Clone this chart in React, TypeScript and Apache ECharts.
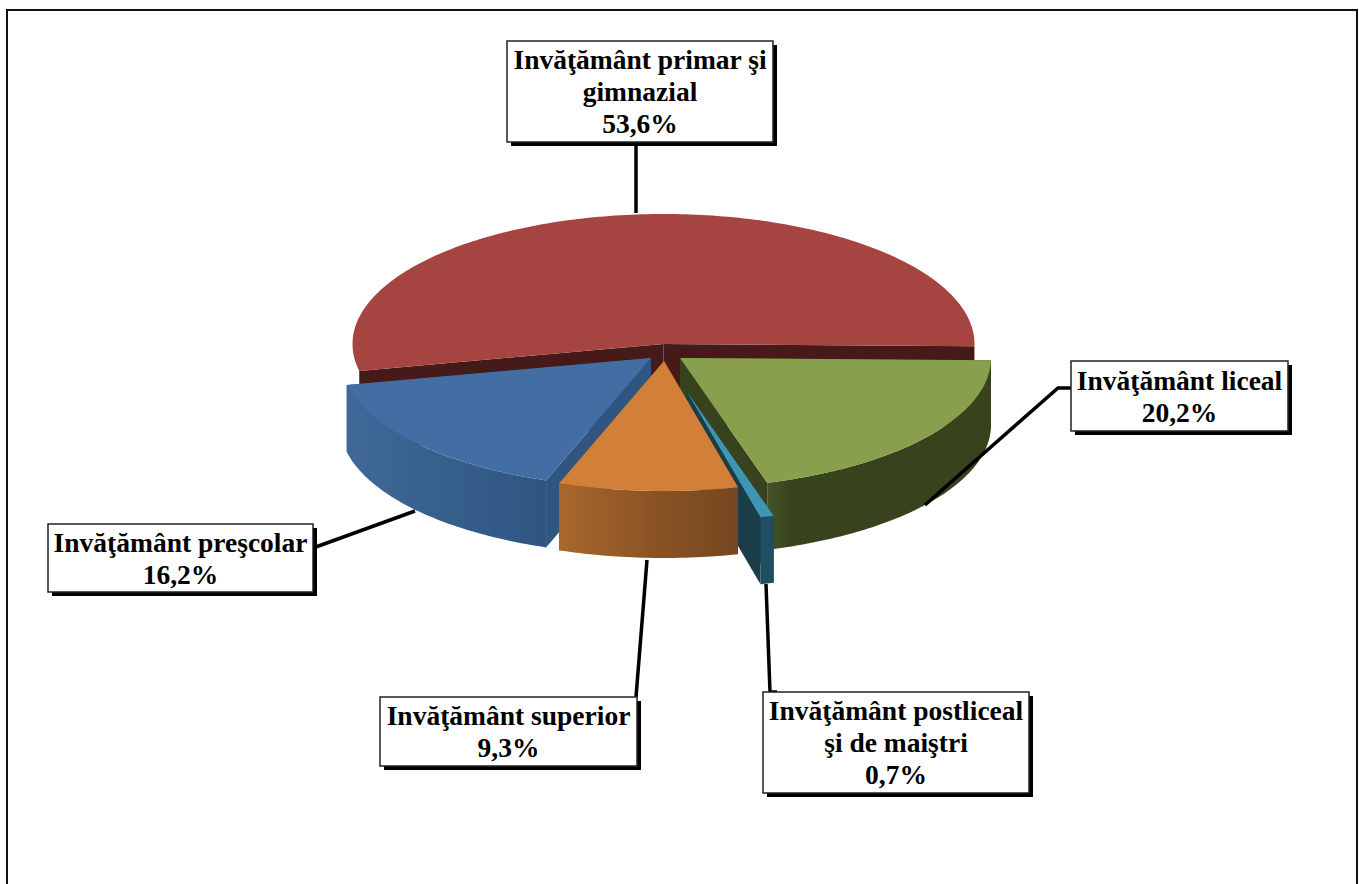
import React, { useEffect, useRef } from "react";
import * as echarts from "echarts";

// Data, clockwise from the right-hand side of the pie
const categories = [
  "Invăţământ liceal",
  "Invăţământ postliceal\nşi de maiştri",
  "Invăţământ superior",
  "Invăţământ preşcolar",
  "Invăţământ primar şi\ngimnazial",
];
const shares = [20.2, 0.7, 9.3, 16.2, 53.6];

// Painter's order (index into categories), back to front
const paintOrder = [4, 3, 0, 1, 2];

// Pie geometry
const START_DEG = 1;
const RX = 311;
const RY = 130;
const DEPTH = 67;
const centres = [
  [680, 358],
  [686.5, 391],
  [664, 361],
  [651, 358],
  [663.5, 344],
];
const hasOuterWall = [true, true, true, true, false];

const topColors = ["#88A04D", "#3E96B2", "#D27F39", "#426EA3", "#A64441"];
const faceColors = ["#38421C", "#1A3D48", "#7A4A20", "#2F5580", "#451A18"];
const wallStops = [
  ["#46542A", "#38421C", "#38421C"],
  ["#1F4F60", "#1F4F60", "#1F4F60"],
  ["#A9672D", "#8C5426", "#74471E"],
  ["#40699A", "#375F8C", "#2F5580"],
  ["#451A18", "#451A18", "#451A18"],
];
const wallMidStop = [0.12, 0.5, 0.5, 0.5, 0.5];

// Callout boxes
const boxes = [
  { x: 1071, y: 361, w: 217, h: 70, leader: [[1071, 388], [1058, 388], [925, 505]] },
  { x: 763, y: 692, w: 266, h: 101, leader: [[777, 692], [770, 692], [766, 584]] },
  { x: 380, y: 697, w: 257, h: 69, leader: [[636, 697], [647, 560]] },
  { x: 48, y: 524, w: 265, h: 68, leader: [[313, 548], [415, 511]] },
  { x: 507, y: 41, w: 266, h: 101, leader: [[636, 146], [636, 213]] },
];

const angles: number[][] = (() => {
  const total = shares.reduce((a, b) => a + b, 0);
  let a = START_DEG;
  return shares.map((s) => {
    const from = a;
    a += (s / total) * 360;
    return [from, a];
  });
})();

const rad = (d: number) => (d * Math.PI) / 180;
const rim = (c: number[], d: number, dy = 0) => [
  c[0] + RX * Math.cos(rad(d)),
  c[1] + RY * Math.sin(rad(d)) + dy,
];
const arc = (c: number[], a: number, b: number, dy = 0) => {
  const pts: number[][] = [];
  const n = Math.max(2, Math.ceil(Math.abs(b - a)));
  for (let i = 0; i <= n; i++) pts.push(rim(c, a + ((b - a) * i) / n, dy));
  return pts;
};

function renderSlice(_: any, api: any) {
  const i = api.value(0);
  const c = centres[i];
  const [a, b] = angles[i];
  const children: any[] = [];
  const face = (d: number) => {
    const p = rim(c, d);
    return {
      type: "polygon",
      shape: { points: [c, p, [p[0], p[1] + DEPTH], [c[0], c[1] + DEPTH]] },
      style: { fill: faceColors[i] },
    };
  };
  children.push(face(a), face(b));
  if (hasOuterWall[i]) {
    const from = Math.max(a, 0);
    const to = Math.min(b, 180);
    const top = arc(c, from, to);
    const bottom = arc(c, to, from, DEPTH);
    const xs = top.map((p) => p[0]);
    const x0 = Math.min(...xs);
    const x1 = Math.max(...xs);
    const [s0, s1, s2] = wallStops[i];
    // Colours run left to right across the wall on screen
    children.push({
      type: "polygon",
      shape: { points: top.concat(bottom) },
      style: {
        fill: new echarts.graphic.LinearGradient(
          x0, 0, x1, 0,
          [
            { offset: 0, color: s0 },
            { offset: wallMidStop[i], color: s1 },
            { offset: 1, color: s2 },
          ],
          true
        ),
      },
    });
  }
  children.push({
    type: "polygon",
    shape: { points: [c].concat(arc(c, a, b)) },
    style: { fill: topColors[i] },
  });
  return { type: "group", children };
}

const fmt = (v: number) => v.toFixed(1).replace(".", ",") + "%";

function calloutElements() {
  const out: any[] = [];
  boxes.forEach((b) => {
    out.push({
      type: "polyline",
      z: 10,
      shape: { points: b.leader },
      style: { stroke: "#000", lineWidth: 3.5, fill: "none" },
    });
  });
  boxes.forEach((b, i) => {
    out.push({
      type: "rect",
      z: 11,
      shape: { x: b.x + 4, y: b.y + 4, width: b.w, height: b.h },
      style: { fill: "#000" },
    });
    out.push({
      type: "rect",
      z: 12,
      shape: { x: b.x, y: b.y, width: b.w, height: b.h },
      style: { fill: "#fff", stroke: "#222", lineWidth: 1.5 },
    });
    out.push({
      type: "text",
      z: 13,
      x: b.x + b.w / 2,
      y: b.y + b.h / 2,
      style: {
        text: categories[i] + "\n" + fmt(shares[i]),
        font: 'bold 27.5px "Liberation Serif"',
        lineHeight: 32,
        fill: "#000",
        align: "center",
        verticalAlign: "middle",
      },
    });
  });
  return out;
}

const frameLines = [
  { type: "polyline", z: 1, shape: { points: [[7, 884], [7, 10], [1357, 10], [1357, 884]] }, style: { stroke: "#111", lineWidth: 2, fill: "none" } },
];

export default function App() {
  const ref = useRef<HTMLDivElement>(null);
  useEffect(() => {
    document.body.style.margin = "0";
    document.body.style.overflow = "hidden";
    const chart = echarts.init(ref.current!, undefined, { renderer: "svg" });
    chart.setOption({
      animation: false,
      backgroundColor: "#fff",
      series: [
        {
          type: "custom",
          coordinateSystem: "none",
          renderItem: renderSlice,
          silent: true,
          data: paintOrder.map((i) => [i, shares[i]]),
        },
      ],
      graphic: { elements: [...frameLines, ...calloutElements()] },
    });
    return () => chart.dispose();
  }, []);
  return <div ref={ref} style={{ position: "absolute", left: 0, top: 0, width: 1359, height: 884 }} />;
}
